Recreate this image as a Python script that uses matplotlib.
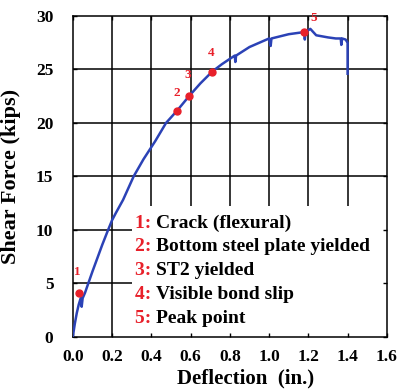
import matplotlib.pyplot as plt

plt.rcParams["font.family"] = "serif"
plt.rcParams["font.serif"] = ["Liberation Serif", "DejaVu Serif"]
plt.rcParams["font.weight"] = "bold"
plt.rcParams["axes.labelweight"] = "bold"

# load-deflection response
deflection = [0.0, 0.01, 0.02, 0.03, 0.04, 0.045, 0.05, 0.062, 0.079, 0.10,
              0.12, 0.15, 0.18, 0.20, 0.22, 0.256, 0.31, 0.36, 0.42, 0.475,
              0.529, 0.592, 0.65, 0.71, 0.76, 0.825, 0.828, 0.832, 0.90, 1.0,
              1.008, 1.012, 1.10, 1.179, 1.182, 1.186, 1.21, 1.24, 1.30, 1.34,
              1.365, 1.368, 1.372, 1.39, 1.40, 1.40]
shear = [0.0, 1.2, 2.2, 3.0, 3.6, 2.8, 3.6, 4.1, 5.0, 6.1,
         7.1, 8.6, 10.0, 10.9, 11.6, 12.8, 15.0, 16.6, 18.3, 20.0,
         21.1, 22.5, 23.7, 24.8, 25.5, 26.3, 25.7, 26.3, 27.1, 27.9,
         27.2, 27.9, 28.3, 28.5, 27.8, 28.5, 28.8, 28.2, 28.0, 27.9,
         27.9, 27.3, 27.9, 27.8, 27.5, 24.6]

# key events
event_x = [0.032, 0.529, 0.592, 0.710, 1.179]
event_y = [4.05, 21.1, 22.5, 24.8, 28.5]
event_num = ["1", "2", "3", "4", "5"]
event_text = ["Crack (flexural)", "Bottom steel plate yielded", "ST2 yielded",
              "Visible bond slip", "Peak point"]
num_offsets = [(-1, 11), (0, 9), (-1, 11), (-1, 9), (7, 6)]

xticks = [0.0, 0.2, 0.4, 0.6, 0.8, 1.0, 1.2, 1.4, 1.6]
yticks = [0, 5, 10, 15, 20, 25, 30]

fig = plt.figure(figsize=(3.98, 3.91), dpi=100)
ax = fig.add_axes([0.183, 0.139, 0.789, 0.820])

# grid drawn by hand so the legend panel can sit above it
for xv in xticks[1:-1]:
    ax.axvline(xv, color='k', linewidth=1.1, zorder=1)
for yv in yticks[1:-1]:
    ax.axhline(yv, color='k', linewidth=1.1, zorder=1)

ax.add_patch(plt.Rectangle((0.30, 0.0), 1.30, 12.2, facecolor='white',
                           edgecolor='none', zorder=1.5))

ax.plot(deflection, shear, color='#2b42b6', linewidth=1.8, zorder=3)
ax.plot(event_x, event_y, 'o', color='#e8202a', markersize=5, zorder=4)
for x, y, n, off in zip(event_x, event_y, event_num, num_offsets):
    ax.annotate(n, (x, y), xytext=off, textcoords='offset points',
                ha='center', va='bottom', color='#e8202a', fontsize=9.5, zorder=5)

# legend text
ly = [10.6, 8.4, 6.2, 3.98, 1.72]
for n, t, y in zip(event_num, event_text, ly):
    lab = ax.text(0.317, y, n + ": ", color='#e8202a', fontsize=14,
                  va='center', zorder=5)
    ax.annotate(t, xy=(1, 0.5), xycoords=lab, va='center', ha='left',
                fontsize=14, color='k', zorder=5)

ax.set_xlim(0, 1.6)
ax.set_ylim(0, 30)
ax.set_xticks(xticks)
ax.set_yticks(yticks)
ax.set_xticklabels(['%.1f' % v for v in xticks])
ax.tick_params(direction='in', length=3, width=1, top=True, right=True,
               labelsize=12.5)
ax.tick_params(axis='x', pad=9)
ax.tick_params(axis='y', pad=14)
for s in ax.spines.values():
    s.set_linewidth(1.1)

ax.set_xlabel("Deflection  (in.)", fontsize=15)
ax.set_ylabel("Shear Force (kips)", fontsize=16)
ax.xaxis.set_label_coords(0.55, -0.098)
ax.yaxis.set_label_coords(-0.165, 0.5)

fig.savefig('out.png', dpi=100)
